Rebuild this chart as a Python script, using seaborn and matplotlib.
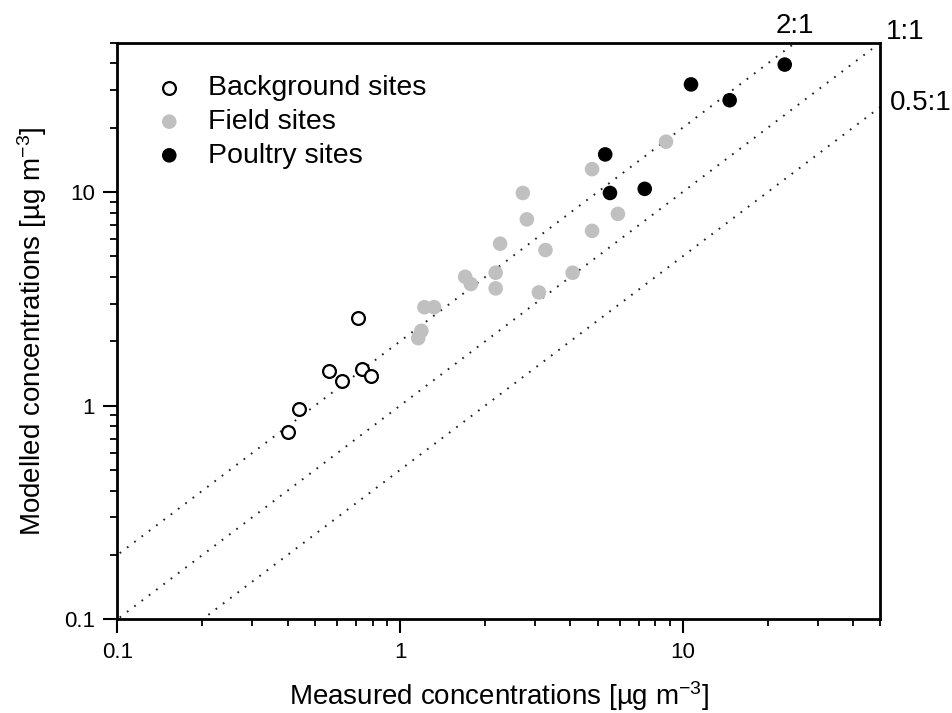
import matplotlib
matplotlib.use("Agg")
import matplotlib.pyplot as plt
import numpy as np
import pandas as pd
import seaborn as sns
from matplotlib.ticker import LogLocator, FuncFormatter, NullFormatter

# Measured vs modelled concentrations (µg m-3)
background_measured = [0.708, 0.561, 0.622, 0.732, 0.792, 0.440, 0.402]
background_modelled = [2.57, 1.45, 1.30, 1.49, 1.376, 0.964, 0.750]

field_measured = [2.72, 2.81, 2.26, 3.27, 4.78, 5.90, 2.18, 2.18, 1.70, 1.78,
                  4.08, 3.10, 1.22, 1.32, 1.19, 1.16, 8.73, 4.78]
field_modelled = [9.9, 7.45, 5.73, 5.35, 6.58, 7.9, 4.19, 3.54, 4.01, 3.71,
                  4.19, 3.39, 2.89, 2.89, 2.24, 2.07, 17.2, 12.8]

poultry_measured = [22.96, 10.7, 14.66, 5.32, 5.53, 7.34]
poultry_modelled = [39.5, 31.9, 26.9, 15.0, 9.9, 10.35]

group_names = ["Background sites", "Field sites", "Poultry sites"]
ratio_labels = ["2:1", "1:1", "0.5:1"]
ratios = [2.0, 1.0, 0.5]

xlim = (0.1, 50)
ylim = (0.1, 50)

sns.set_theme(style="ticks")
plt.rcParams["font.family"] = ["Liberation Sans", "DejaVu Sans"]
plt.rcParams["mathtext.fontset"] = "custom"
plt.rcParams["mathtext.rm"] = "Liberation Sans"
plt.rcParams["mathtext.it"] = "Liberation Sans:italic"
plt.rcParams["mathtext.bf"] = "Liberation Sans:bold"
for key in ("text.color", "axes.labelcolor", "xtick.color", "ytick.color", "axes.edgecolor"):
    plt.rcParams[key] = "black"

df = pd.concat([
    pd.DataFrame({"measured": background_measured, "modelled": background_modelled, "group": group_names[0]}),
    pd.DataFrame({"measured": field_measured, "modelled": field_modelled, "group": group_names[1]}),
    pd.DataFrame({"measured": poultry_measured, "modelled": poultry_modelled, "group": group_names[2]}),
], ignore_index=True)

fig = plt.figure(figsize=(9.53, 7.13), dpi=100)
ax = fig.add_axes([0.1231, 0.1314, 0.8006, 0.8087])

# Reference ratio lines
xs = np.array([xlim[0] / 2, xlim[1] * 2])
for r in ratios:
    ax.plot(xs, r * xs, color="#222222", lw=1.4, linestyle=(0, (0.9, 3.8)), zorder=1)

styles = {
    group_names[0]: dict(s=85, facecolor="white", edgecolor="black", linewidth=1.6),
    group_names[1]: dict(s=110, color="#c0c0c0", edgecolor="none", linewidth=0),
    group_names[2]: dict(s=110, color="black", edgecolor="none", linewidth=0),
}
for name in group_names:
    sub = df[df["group"] == name]
    sns.scatterplot(data=sub, x="measured", y="modelled", ax=ax,
                    label=name, zorder=3, **styles[name])

ax.set_xscale("log")
ax.set_yscale("log")
ax.set_xlim(*xlim)
ax.set_ylim(*ylim)

fmt = FuncFormatter(lambda v, p: f"{v:g}")
for axis in (ax.xaxis, ax.yaxis):
    axis.set_major_locator(LogLocator(base=10))
    axis.set_minor_locator(LogLocator(base=10, subs=np.arange(2, 10)))
    axis.set_major_formatter(fmt)
    axis.set_minor_formatter(NullFormatter())

ax.tick_params(which="major", length=10, width=1.5, direction="out",
               labelsize=16, colors="black", pad=6)
ax.tick_params(which="minor", length=5, width=1.3, direction="out")
ax.tick_params(top=False, right=False, which="both")
for sp in ax.spines.values():
    sp.set_linewidth(2.0)
    sp.set_color("black")

ax.set_xlabel(r"Measured concentrations [µg m$^{\mathregular{-3}}$]", fontsize=20, va="baseline")
ax.set_ylabel(r"Modelled concentrations [µg m$^{\mathregular{-3}}$]", fontsize=20, va="baseline")
ax.xaxis.set_label_coords(0.5, -0.149)
ax.yaxis.set_label_coords(-0.1005, 0.5)

# Ratio line labels
ax.annotate(ratio_labels[0], xy=(ylim[1] / ratios[0], ylim[1]), xytext=(0, 3),
            textcoords="offset points", ha="center", va="bottom", fontsize=20,
            annotation_clip=False)
ax.annotate(ratio_labels[1], xy=(xlim[1], ylim[1]), xytext=(4, 8),
            textcoords="offset points", ha="left", va="center", fontsize=20,
            annotation_clip=False)
ax.annotate(ratio_labels[2], xy=(xlim[1], xlim[1] * ratios[2]), xytext=(7, 3),
            textcoords="offset points", ha="left", va="center", fontsize=20,
            annotation_clip=False)

leg = ax.legend(loc="upper left", frameon=False, fontsize=20.5, handlelength=1.0,
                handletextpad=0.85, borderaxespad=0, labelspacing=0.27,
                markerscale=1.0, bbox_to_anchor=(0.0345, 0.963))

fig.savefig("out.png", dpi=100)
